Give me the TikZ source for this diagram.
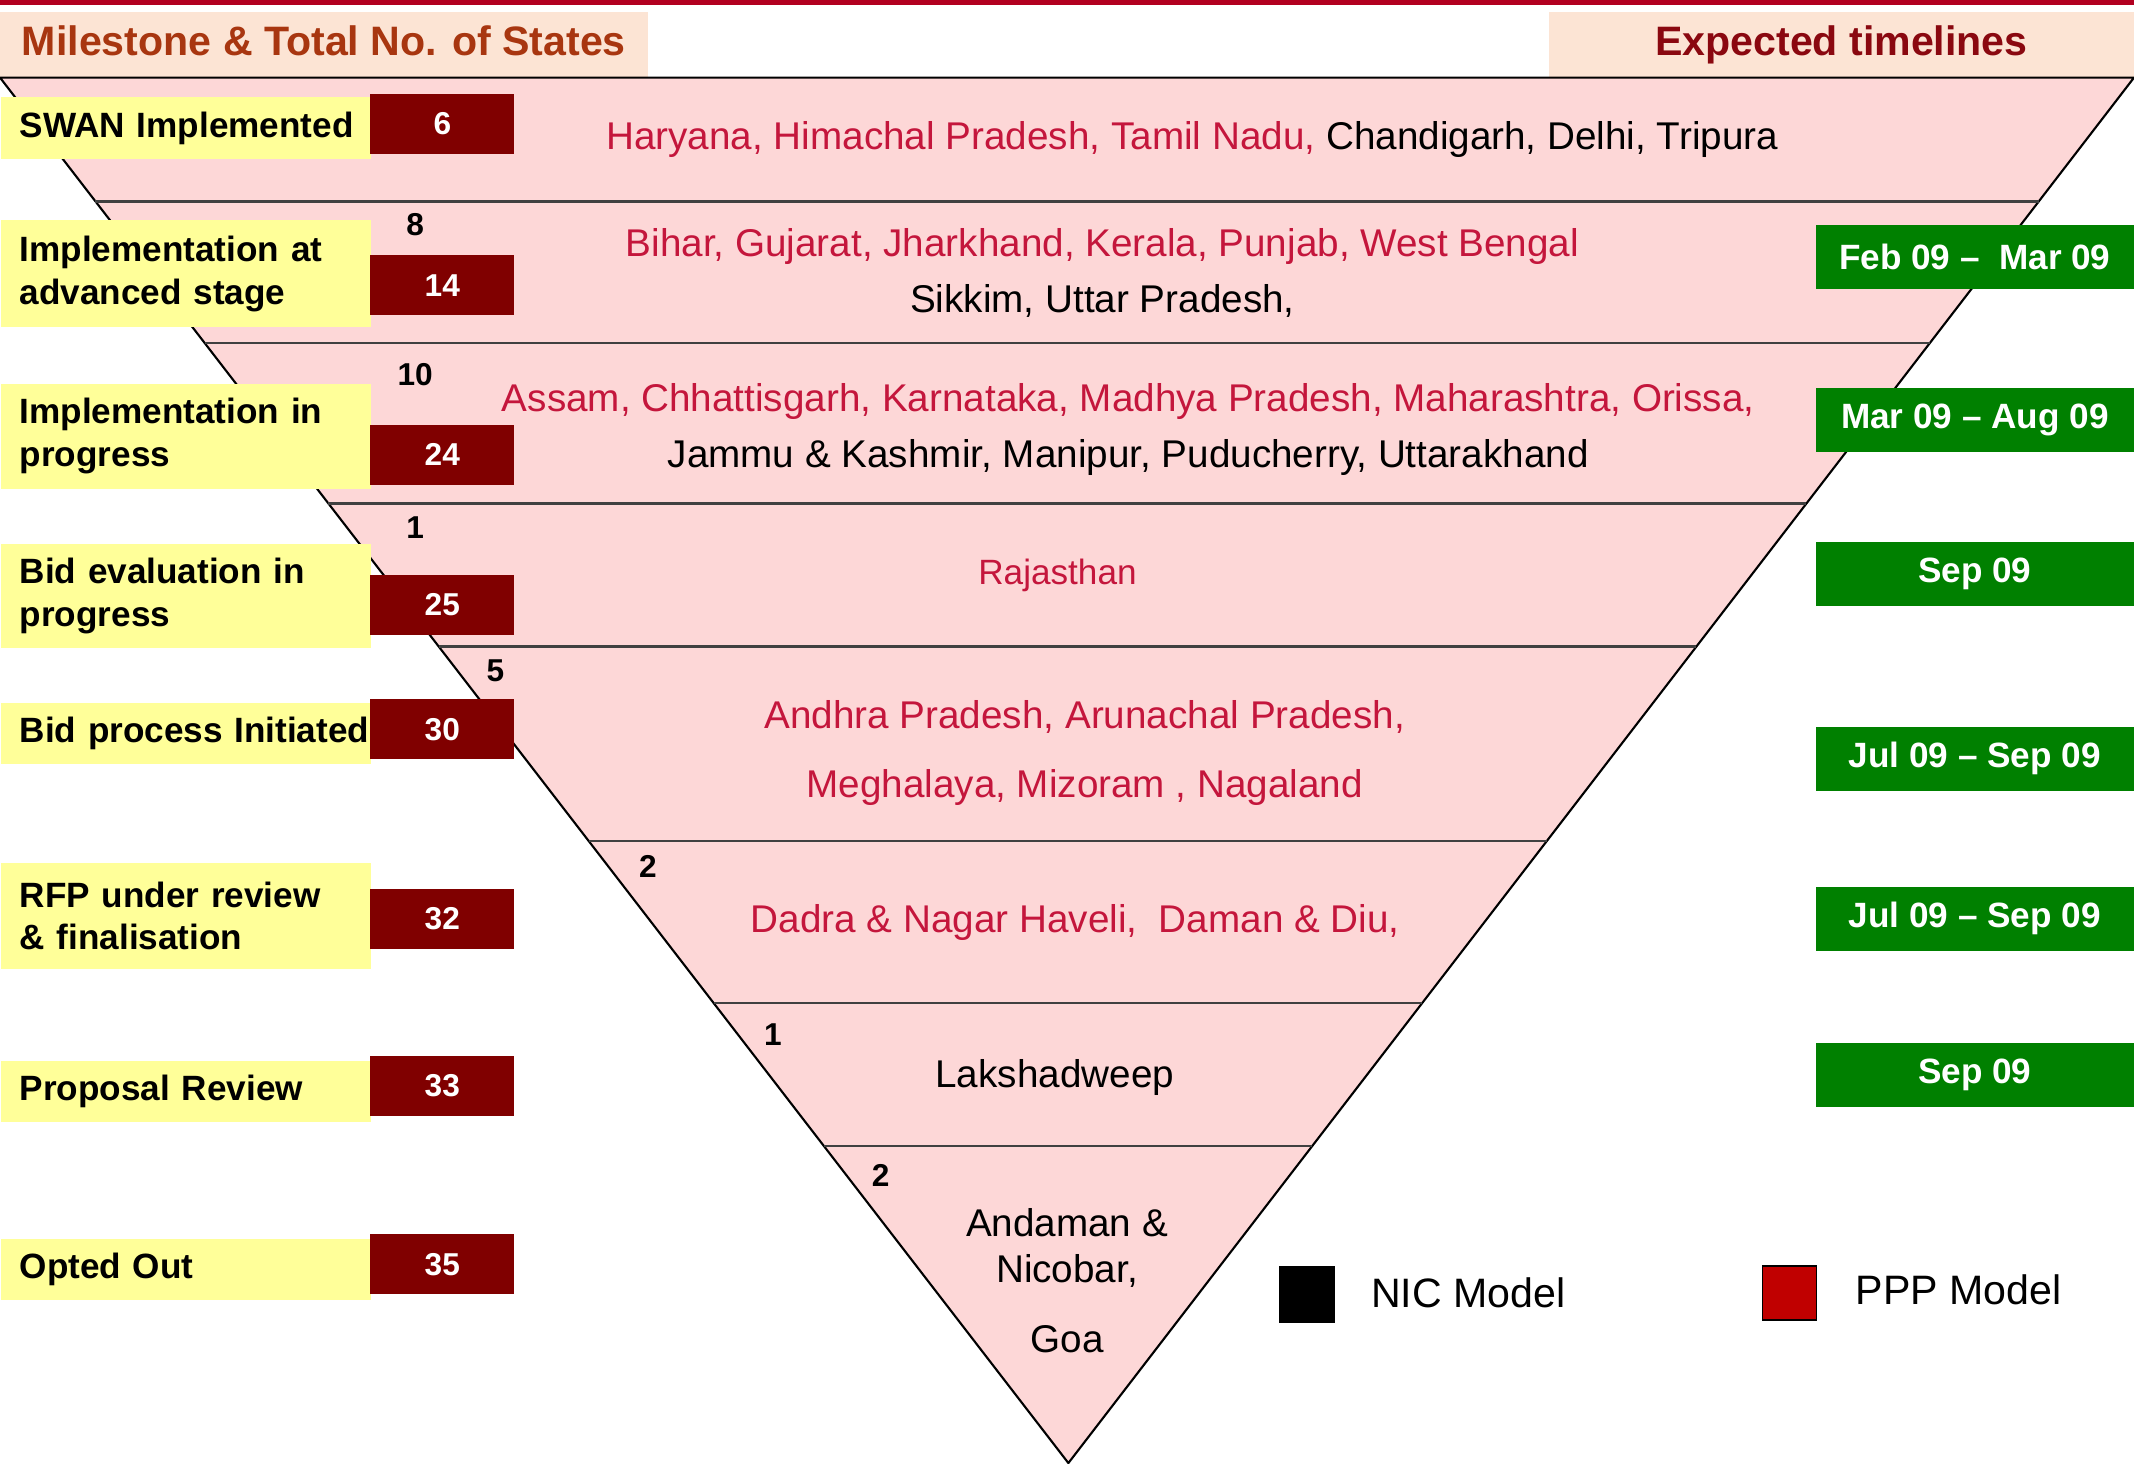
\documentclass[tikz,border=0pt]{standalone}
\usepackage{fontspec}
\setmainfont{Liberation Sans}
\usepackage[dvipsnames,svgnames]{xcolor}
\usepackage{tkz-euclide}
\usetikzlibrary{calc}

\definecolor{headbar}{RGB}{178,0,32}
\definecolor{peach}{RGB}{252,228,212}
\definecolor{headbrown}{RGB}{168,54,16}
\definecolor{headred}{RGB}{138,8,16}
\definecolor{lemon}{RGB}{255,255,153}
\definecolor{countred}{RGB}{128,0,0}
\definecolor{trifill}{RGB}{253,215,215}
\definecolor{statered}{RGB}{196,22,60}
\definecolor{timegreen}{RGB}{0,128,0}
\definecolor{pppred}{RGB}{192,0,0}

\tikzset{
  head/.style={fill=peach, inner sep=0pt, minimum height=0.68cm, text height=0.75em, text depth=0.25em,
    font=\fontsize{11.7}{14}\selectfont\bfseries},
  stage/.style={fill=lemon, anchor=west, inner xsep=0.19cm, inner ysep=0pt, text width=3.322cm,
    align=left, font=\fontsize{10}{12.2}\selectfont\bfseries},
  tally/.style={fill=countred, text=white, minimum width=1.443cm, minimum height=0.6cm,
    inner sep=0pt, font=\fontsize{9}{10}\selectfont\bfseries},
  delta/.style={inner sep=0pt, font=\fontsize{9}{10}\selectfont\bfseries},
  states/.style={inner sep=0pt, align=center, font=\fontsize{11}{15.9}\selectfont},
  timeline/.style={fill=timegreen, text=white, minimum width=3.185cm, minimum height=0.64cm,
    inner sep=0pt, font=\fontsize{10}{12}\selectfont\bfseries},
  divider/.style={draw=black!75, line width=0.8pt},
  legend/.style={inner sep=0pt, anchor=west, font=\fontsize{11.7}{14}\selectfont}
}

\begin{document}
\begin{tikzpicture}[x=0.01361cm,y=-0.01361cm]
  \useasboundingbox (0,0) rectangle (1568,1075);
  \fill[headbar] (0,0) rectangle (1568,4);
  \node[head, text=headbrown, minimum width=6.478cm] (hleft) at (238,34) {Milestone \& Total No. of States};
  \node[head, text=headred, minimum width=5.852cm] (hright) at (1353,34) {Expected timelines};

  \tkzDefPoints{0/57/A,1568/57/B,785/1075/C}
  \tkzDrawPolygon[fill=trifill, draw=black, line width=0.6pt](A,B,C)
  \foreach \yy [evaluate=\yy as \t using (\yy-57)/1018] in {148,252,370,475,618,737,842}
    \draw[divider] ($(A)!\t!(C)$) -- ($(B)!\t!(C)$);

  % milestones and running totals
  \foreach \n/\yy/\hh/\lbl/\ry/\cnt in {
    1/94/45/{\mbox{SWAN Implemented}}/91/6,
    2/201/78/{Implementation at\\advanced stage}/209.5/14,
    3/320.5/77/{Implementation in\\progress}/334/24,
    4/438/76/{Bid evaluation in\\progress}/444.5/25,
    5/539/45/{\mbox{Bid process Initiated}}/536/30,
    6/673/78/{RFP under review\\\& finalisation}/675/32,
    7/802/45/{Proposal Review}/798/33,
    8/933/45/{Opted Out}/929/35}
  {
    \node[stage, minimum height=\hh*0.01361cm] (m\n) at (0,\yy) {\lbl};
    \node[tally] (c\n) at (325,\ry) {\cnt};
  }
  \foreach \n/\xx/\yy/\v in {2/305/165/8, 3/305/275/10, 4/305/388/1, 5/364/493/5,
    6/476/637/2, 7/568/760/1, 8/647/864/2}
    \node[delta] (d\n) at (\xx,\yy) {\v};

  % states in each band
  \node[states] (s1) at (876,102.5) {\textcolor{statered}{Haryana, Himachal Pradesh, Tamil Nadu,} Chandigarh, Delhi, Tripura};
  \node[states] (s2) at (810,200.5) {\textcolor{statered}{Bihar, Gujarat, Jharkhand, Kerala, Punjab, West Bengal}\\Sikkim, Uttar Pradesh,};
  \node[states] (s3) at (829,315.5) {\textcolor{statered}{Assam, Chhattisgarh, Karnataka, Madhya Pradesh, Maharashtra, Orissa,}\\Jammu \& Kashmir, Manipur, Puducherry, Uttarakhand};
  \node[states, text=statered, font=\fontsize{10}{12}\selectfont] (s4) at (777,423) {Rajasthan};
  \node[states, text=statered, font=\fontsize{11}{19.7}\selectfont] (s5) at (797,553) {Andhra Pradesh, Arunachal Pradesh,\\Meghalaya, Mizoram , Nagaland};
  \node[states, text=statered] (s6) at (790,677.5) {Dadra \& Nagar Haveli,\ \ Daman \& Diu,};
  \node[states] (s7) at (775,791.5) {Lakshadweep};
  \node[states, font=\fontsize{11}{13.1}\selectfont] (s8) at (784,941) {Andaman \&\\Nicobar,\\[6.9pt]Goa};

  % expected timelines
  \foreach \n/\yy/\txt in {1/188.5/{Feb 09 –\ \ Mar 09}, 2/308.5/{Mar 09 – Aug 09}, 3/421.5/{Sep 09},
    4/557.5/{Jul 09 – Sep 09}, 5/675/{Jul 09 – Sep 09}, 6/790/{Sep 09}}
    \node[timeline] (t\n) at (1451,\yy) {\txt};

  % legend
  \node[fill=black, minimum width=0.56cm, minimum height=0.57cm, inner sep=0pt] (nic) at (960.5,951) {};
  \node[legend] (nictext) at (1007,950) {NIC Model};
  \node[fill=pppred, draw=black, line width=0.4pt, minimum width=0.54cm, minimum height=0.54cm, inner sep=0pt] (ppp) at (1315,950) {};
  \node[legend] (ppptext) at (1363,948) {PPP Model};
\end{tikzpicture}
\end{document}
